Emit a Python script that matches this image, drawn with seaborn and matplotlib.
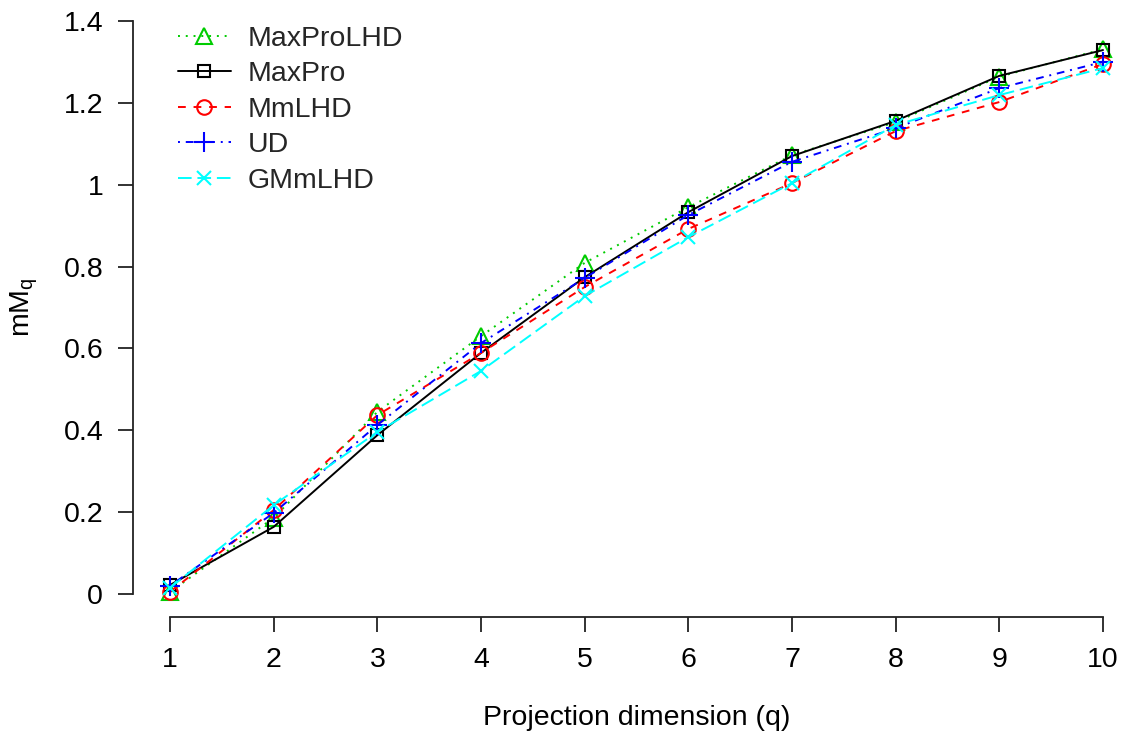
import matplotlib
matplotlib.use("Agg")
import matplotlib.pyplot as plt
import seaborn as sns
import pandas as pd

q = [1, 2, 3, 4, 5, 6, 7, 8, 9, 10]
maxprolhd = [0.005, 0.186, 0.445, 0.630, 0.809, 0.945, 1.072, 1.153, 1.264, 1.331]
maxpro    = [0.022, 0.164, 0.388, 0.589, 0.774, 0.933, 1.070, 1.156, 1.266, 1.329]
mmlhd     = [0.005, 0.205, 0.437, 0.589, 0.750, 0.892, 1.004, 1.131, 1.202, 1.295]
ud        = [0.020, 0.198, 0.413, 0.613, 0.772, 0.926, 1.056, 1.138, 1.236, 1.300]
gmmlhd    = [0.015, 0.217, 0.396, 0.545, 0.728, 0.872, 1.004, 1.146, 1.219, 1.285]

series_names = ["MaxProLHD", "MaxPro", "MmLHD", "UD", "GMmLHD"]
series_vals = [maxprolhd, maxpro, mmlhd, ud, gmmlhd]
yticks = [0, 0.2, 0.4, 0.6, 0.8, 1.0, 1.2, 1.4]
ytick_labels = ["0", "0.2", "0.4", "0.6", "0.8", "1", "1.2", "1.4"]

sns.set_theme(style="white")
plt.rcParams["font.family"] = ["Liberation Sans", "DejaVu Sans"]
plt.rcParams["mathtext.fontset"] = "custom"
plt.rcParams["mathtext.rm"] = "Liberation Sans"
plt.rcParams["mathtext.it"] = "Liberation Sans:italic"

styles = {
    "MaxProLHD": dict(color="#00cc00", marker="^", ls=(0, (1, 3))),
    "MaxPro":    dict(color="black",   marker="s", ls="-"),
    "MmLHD":     dict(color="#ff0000", marker="o", ls=(0, (4, 4))),
    "UD":        dict(color="#0000ff", marker="+", ls=(0, (1, 3, 4, 3))),
    "GMmLHD":    dict(color="#00ffff", marker="x", ls=(0, (7, 3))),
}
msizes = {"^": 11, "s": 9, "o": 10.5, "+": 14, "x": 10.5}
FS = 20.5

W, H = 1122, 732
fig = plt.figure(figsize=(W / 100, H / 100), dpi=100)
left, bottom_px, right = 133, 617, 1122
ax = fig.add_axes([left / W, (H - bottom_px) / H, (right - left) / W, bottom_px / H])

for name, vals in zip(series_names, series_vals):
    st = styles[name]
    df = pd.DataFrame({"q": q, "v": vals})
    sns.lineplot(data=df, x="q", y="v", ax=ax, color=st["color"], linestyle=st["ls"],
                 linewidth=1.4, marker=st["marker"], markersize=msizes[st["marker"]],
                 markerfacecolor="none", markeredgecolor=st["color"],
                 markeredgewidth=1.5, label=name)

px_x = (1103 - 170) / 9.0
px_y = (594 - 21) / 1.4
ax.set_xlim(1 - (170 - left) / px_x, 10 + (right - 1103) / px_x)
ax.set_ylim(0 - (bottom_px - 594) / px_y, 1.4 + 21 / px_y)

for s in ["top", "right"]:
    ax.spines[s].set_visible(False)
for s in ["left", "bottom"]:
    ax.spines[s].set_color("#222222")
    ax.spines[s].set_linewidth(1.3)
ax.spines["left"].set_bounds(0, 1.4)
ax.spines["bottom"].set_bounds(1, 10)

ax.set_xticks(q)
ax.set_xticklabels([str(v) for v in q])
ax.set_yticks(yticks)
ax.set_yticklabels(ytick_labels)
ax.tick_params(axis="both", direction="out", length=10.5, width=1.3, color="#222222",
               labelsize=FS, labelcolor="black", left=True, bottom=True)
ax.tick_params(axis="y", pad=11)
ax.tick_params(axis="x", pad=11)
ax.grid(False)

ax.set_xlabel("Projection dimension (q)", fontsize=FS, color="black")
ax.set_ylabel(r"mM$_\mathrm{q}$", fontsize=FS, color="black")
ax.xaxis.set_label_coords((637 - left) / (right - left), -0.142)
ax.yaxis.set_label_coords((40 - left) / (right - left), 0.502)

leg = ax.legend(loc="upper left", bbox_to_anchor=(178 / W, 1 - 26 / H),
                bbox_transform=fig.transFigure, frameon=False, fontsize=FS,
                handlelength=1.85, handletextpad=0.6, labelspacing=0.33,
                borderpad=0, borderaxespad=0)

fig.savefig("out.png", dpi=100, facecolor="white")
